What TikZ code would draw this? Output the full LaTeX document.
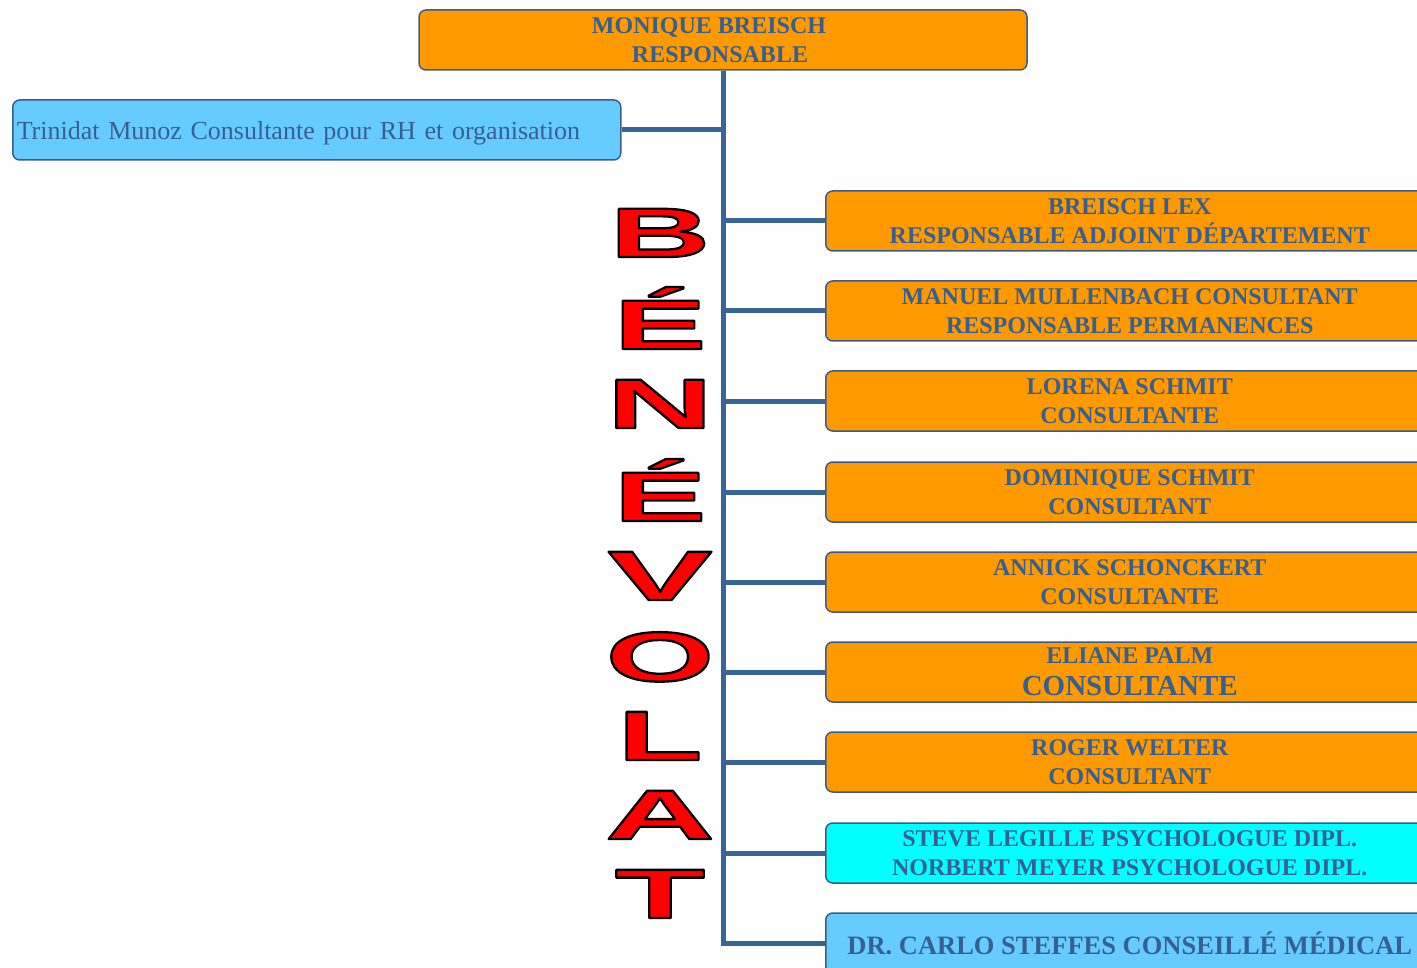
\documentclass[tikz,border=0pt]{standalone}
\usepackage{fontspec}
\setmainfont{Liberation Serif}
\newfontfamily\lfA{Liberation Sans}[FakeStretch=2.0]
\newfontfamily\lfB{Liberation Sans}[FakeStretch=2.12]
\newfontfamily\lfC{Liberation Sans}[FakeStretch=2.25]
\newfontfamily\lfD{Liberation Sans}[FakeStretch=2.18]
\usetikzlibrary{calc}
\definecolor{orgfill}{RGB}{255,153,0}
\definecolor{lbfill}{RGB}{102,204,255}
\definecolor{cyfill}{RGB}{0,255,255}
\definecolor{bordc}{RGB}{56,93,138}
\definecolor{txtc}{RGB}{54,96,146}
\definecolor{connc}{RGB}{54,101,150}
\definecolor{letterred}{RGB}{255,0,0}
\newcommand{\outl}[1]{\special{pdf:literal direct 2 Tr 2.3 w 1 j 0 0 0 RG}#1\special{pdf:literal direct 0 Tr}}
\tikzset{
  box/.style={draw=bordc, line width=1.5pt, rounded corners=7pt, text=txtc,
    minimum width=608pt, minimum height=60pt, inner sep=0pt, align=center,
    font=\bfseries\fontsize{24}{29}\selectfont},
  orgbox/.style={box, fill=orgfill},
  rbox/.style={orgbox, anchor=west},
  conn/.style={draw=connc, line width=5pt},
  bigletter/.style={font=\bfseries\fontsize{70}{70}\selectfont, anchor=base, inner sep=0pt, text=letterred}
}
\begin{document}
\begin{tikzpicture}[x=1pt,y=-1pt]
\useasboundingbox (0,0) rectangle (1417,968);
% boxes
\node[orgbox] (top) at (723,40) {MONIQUE BREISCH\hspace*{28pt}\\RESPONSABLE\hspace*{6pt}};
\node[box, fill=lbfill, anchor=west, font=\fontsize{26}{30}\selectfont, text width=600pt, align=left, text height=22pt, text depth=2pt] (tri) at (12,130) {Trinidat Munoz Consultante pour RH et organisation};
\node[rbox] (b1) at (825,221) {BREISCH LEX\\RESPONSABLE ADJOINT DÉPARTEMENT};
\node[rbox] (b2) at (825,311) {MANUEL MULLENBACH CONSULTANT\\RESPONSABLE PERMANENCES};
\node[rbox] (b3) at (825,401) {LORENA SCHMIT\\CONSULTANTE};
\node[rbox] (b4) at (825,492) {DOMINIQUE SCHMIT\\CONSULTANT};
\node[rbox] (b5) at (825,582) {ANNICK SCHONCKERT\\CONSULTANTE};
\node[rbox] (b6) at (825,672) {ELIANE PALM\\[3pt]{\fontsize{29}{32}\selectfont CONSULTANTE}};
\node[rbox] (b7) at (825,762) {ROGER WELTER\\CONSULTANT};
\node[rbox, fill=cyfill] (b8) at (825,853) {STEVE LEGILLE PSYCHOLOGUE DIPL.\\NORBERT MEYER PSYCHOLOGUE DIPL.};
\node[rbox, fill=lbfill, font=\bfseries\fontsize{26.5}{30}\selectfont] (b9) at (825,943) {DR. CARLO STEFFES CONSEILLÉ MÉDICAL};
% connectors
\draw[conn] (top.south) |- (b9.west);
\draw[conn] (tri.east) -- (tri.east -| top.south);
\foreach \b in {b1,b2,b3,b4,b5,b6,b7,b8}
  \draw[conn] (\b.west) -- (\b.west -| top.south);
% vertical word
\foreach \L/\f/\y [count=\i] in {B/\lfA/257, É/\lfA/349, N/\lfB/428, É/\lfA/521, V/\lfC/600, O/\lfA/681, L/\lfA/760, A/\lfD/839, T/\lfB/918}{
  \node[bigletter] (l\i) at (660,\y) {\f\bfseries\outl{\L}};
}
\end{tikzpicture}
\end{document}
